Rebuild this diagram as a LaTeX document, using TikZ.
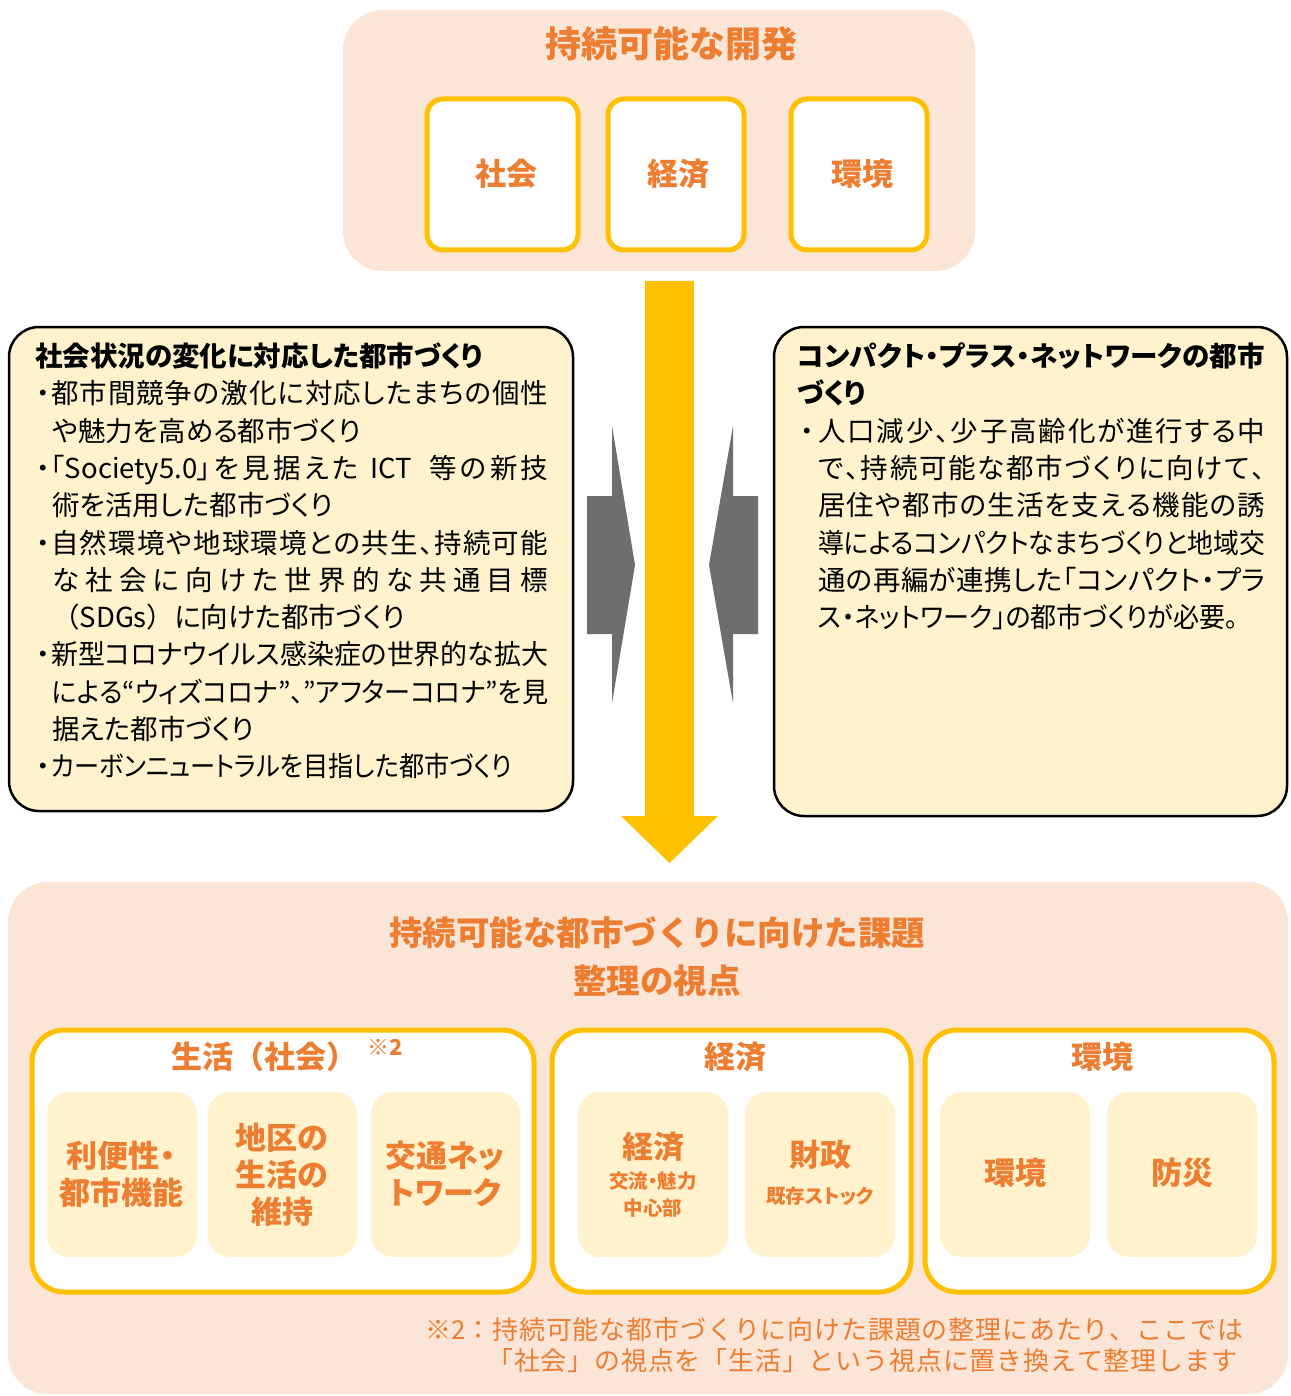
\documentclass[tikz,border=0pt]{standalone}
\usepackage{fontspec}
\usepackage{graphicx}
\setmainfont{Noto Sans CJK JP}
\newfontfamily\pj[RawFeature=+palt]{Noto Sans CJK JP}
\definecolor{peach}{HTML}{FBE5D6}
\definecolor{gold}{HTML}{FFC000}
\definecolor{orng}{HTML}{ED7D31}
\definecolor{lyel}{HTML}{FFF2CC}
\definecolor{agray}{HTML}{6E6E6E}
\makeatletter
\newXeTeXintercharclass\jcls
\def\setjcls#1#2{\count@=#1\relax\loop\XeTeXcharclass\count@=\jcls\relax\ifnum\count@<#2\relax\advance\count@\@ne\repeat}
\setjcls{"3000}{"30FF}
\setjcls{"4E00}{"9FFF}
\setjcls{"FF01}{"FF5E}
\makeatother
\XeTeXinterchartoks\jcls\jcls={\hskip 0pt plus 1fil\relax}
\newbox\jlbox
\newdimen\jlw
\newcommand\jl[2]{\setbox\jlbox=\hbox{#2}\jlw=\wd\jlbox
  \ifdim\jlw>#1\relax
    \pgfmathsetmacro\jlr{#1/\jlw}\scalebox{\jlr}[1]{\box\jlbox}%
  \else
    \hbox to #1{\XeTeXinterchartokenstate=1 #2}%
  \fi}
\newcommand\bodyset{\pj\fontsize{27.5}{37.3}\selectfont\baselineskip=37.3pt\lineskiplimit=-100pt\lineskip=0pt}
\newcommand\bul{\hbox to 16pt{\hss・\hss}}
\newcommand\ind{\hskip 17pt}
\newcommand\rbul{\hbox to 21pt{\hss・\hss}}
\newcommand\rind{\hskip 21pt}
\newcommand\fwl{{\rmfamily （}}
\newcommand\fwr{{\rmfamily ）}}
\newcommand\bx[6]{\node[#1, inner sep=0pt, minimum width={(#5-#3)*1pt}, minimum height={(#6-#4)*1pt}] (#2) at ({(#3+#5)/2},{(#4+#6)/2}) {};}
\begin{document}
\begin{tikzpicture}[x=1pt,y=-1pt,
  panel/.style={fill=peach, rounded corners=40pt},
  whitebox/.style={draw=gold, line width=5pt, fill=white, rounded corners=16pt},
  grpbox/.style={draw=gold, line width=5pt, fill=white, rounded corners=32pt},
  cellbox/.style={fill=lyel, rounded corners=22pt},
  sidebox/.style={draw=black, line width=2.5pt, fill=lyel, rounded corners=30pt},
  head/.style={text=orng, inner sep=0pt, font=\bfseries\fontsize{#1}{#1}\selectfont},
  head/.default=31,
  cell/.style={text=orng, inner sep=0pt, align=center, font=\pj\bfseries\fontsize{31}{37}\selectfont},
  small/.style={text=orng, inner sep=0pt, align=center, font=\pj\bfseries\fontsize{19.5}{27}\selectfont}]
\fill[white] (0,0) rectangle (1290,1396);
\useasboundingbox (0,0) rectangle (1290,1396);
% top panel
\bx{panel}{top}{343}{10}{975}{271}
\node[head=36] (toptitle) at (671,44) {持続可能な開発};
\bx{whitebox}{tsoc}{427}{99}{578}{250}
\bx{whitebox}{teco}{608}{99}{744}{250}
\bx{whitebox}{tenv}{791}{99}{927}{250}
\node[head] (tsoct) at (506,174) {社会};
\node[head] (tecot) at (678,174) {経済};
\node[head] (tenvt) at (862,174) {環境};
% big yellow arrow
\fill[gold] (645,281) -- (694,281) -- (694,816) -- (718,816) -- (669.5,863) -- (621,816) -- (645,816) -- cycle;
% grey arrows
\fill[agray] (587,496) -- (612,496) -- (612,426) -- (635,565) -- (612,703) -- (612,634) -- (587,634) -- cycle;
\fill[agray] (758,496) -- (733,496) -- (733,426) -- (709,565) -- (733,703) -- (733,634) -- (758,634) -- cycle;
% side boxes
\bx{sidebox}{lbox}{9}{327}{573}{811}
\bx{sidebox}{rbox}{774}{327}{1287}{816}
\node[anchor=base west, inner sep=0pt] (ltxt) at (35,366.5) {\vtop{\bodyset
 \hbox{\bfseries 社会状況の変化に対応した都市づくり}
 \hbox{\bul\jl{497pt}{都市間競争の激化に対応したまちの個性}}
 \hbox{\ind\hbox{や魅力を高める都市づくり}}
 \hbox{\bul\jl{497pt}{「Society5.0」を見据えた\hskip 12pt ICT\hskip 18pt 等の新技}}
 \hbox{\ind\hbox{術を活用した都市づくり}}
 \hbox{\bul\jl{497pt}{自然環境や地球環境との共生、持続可能}}
 \hbox{\ind\jl{496pt}{な社会に向けた世界的な共通目標}}
 \hbox{\ind\hbox{\fwl SDGs\fwr に向けた都市づくり}}
 \hbox{\bul\jl{497pt}{新型コロナウイルス感染症の世界的な拡大}}
 \hbox{\ind\jl{496pt}{による“ウィズコロナ”、”アフターコロナ”を見}}
 \hbox{\ind\hbox{据えた都市づくり}}
 \hbox{\bul\jl{461pt}{カーボンニュートラルを目指した都市づくり}}
}};
\node[anchor=base west, inner sep=0pt] (rtxt) at (797,366.5) {\vtop{\bodyset
 \hbox{\bfseries\jl{468pt}{コンパクト・プラス・ネットワークの都市}}
 \hbox{\bfseries づくり}
 \hbox{\rbul\jl{447pt}{人口減少、少子高齢化が進行する中}}
 \hbox{\rind\jl{447pt}{で、持続可能な都市づくりに向けて、}}
 \hbox{\rind\jl{447pt}{居住や都市の生活を支える機能の誘}}
 \hbox{\rind\jl{447pt}{導によるコンパクトなまちづくりと地域交}}
 \hbox{\rind\jl{447pt}{通の再編が連携した「コンパクト・プラ}}
 \hbox{\rind\jl{420pt}{ス・ネットワーク」の都市づくりが必要。}}
}};
% bottom panel
\bx{panel}{bottom}{8}{882}{1288}{1394}
\node[head=33.5, align=center, font=\bfseries\fontsize{33.5}{48}\selectfont] (btitle) at (657,957) {持続可能な都市づくりに向けた課題\\整理の視点};
\bx{grpbox}{g1}{32}{1030}{534}{1292}
\bx{grpbox}{g2}{552}{1030}{911}{1292}
\bx{grpbox}{g3}{925}{1030}{1274}{1292}
\node[head] (g1t) at (264,1057) {生活（社会）};
\node[head=22] (g1n) at (385,1047) {※2};
\node[head] (g2t) at (735,1057) {経済};
\node[head] (g3t) at (1102,1057) {環境};
\bx{cellbox}{c1}{47}{1092}{197}{1257}
\bx{cellbox}{c2}{208}{1092}{357}{1257}
\bx{cellbox}{c3}{371}{1092}{520}{1257}
\bx{cellbox}{c4}{578}{1092}{728}{1257}
\bx{cellbox}{c5}{745}{1092}{895}{1257}
\bx{cellbox}{c6}{940}{1092}{1090}{1257}
\bx{cellbox}{c7}{1107}{1092}{1257}{1257}
\node[cell] (c1t) at (121,1174) {利便性・\\都市機能};
\node[cell] (c2t) at (282,1175) {地区の\\生活の\\維持};
\node[cell] (c3t) at (445,1174) {交通ネッ\\トワーク};
\node[cell] (c4t) at (653,1147) {経済};
\node[small] (c4s) at (653,1194) {交流・魅力\\中心部};
\node[cell] (c5t) at (820,1155) {財政};
\node[small] (c5s) at (820,1196) {既存ストック};
\node[cell] (c6t) at (1015,1173) {環境};
\node[cell] (c7t) at (1182,1173) {防災};
% footnote
\node[anchor=base west, inner sep=0pt, text=orng] (fn) at (425,1339.5) {\vtop{\fontsize{26}{31}\selectfont\baselineskip=31pt\lineskiplimit=-100pt
 \hbox{\jl{818pt}{※2：持続可能な都市づくりに向けた課題の整理にあたり、ここでは}}
 \hbox{\hskip 62pt\jl{750pt}{「社会」の視点を「生活」という視点に置き換えて整理します}}
}};
\end{tikzpicture}
\end{document}
